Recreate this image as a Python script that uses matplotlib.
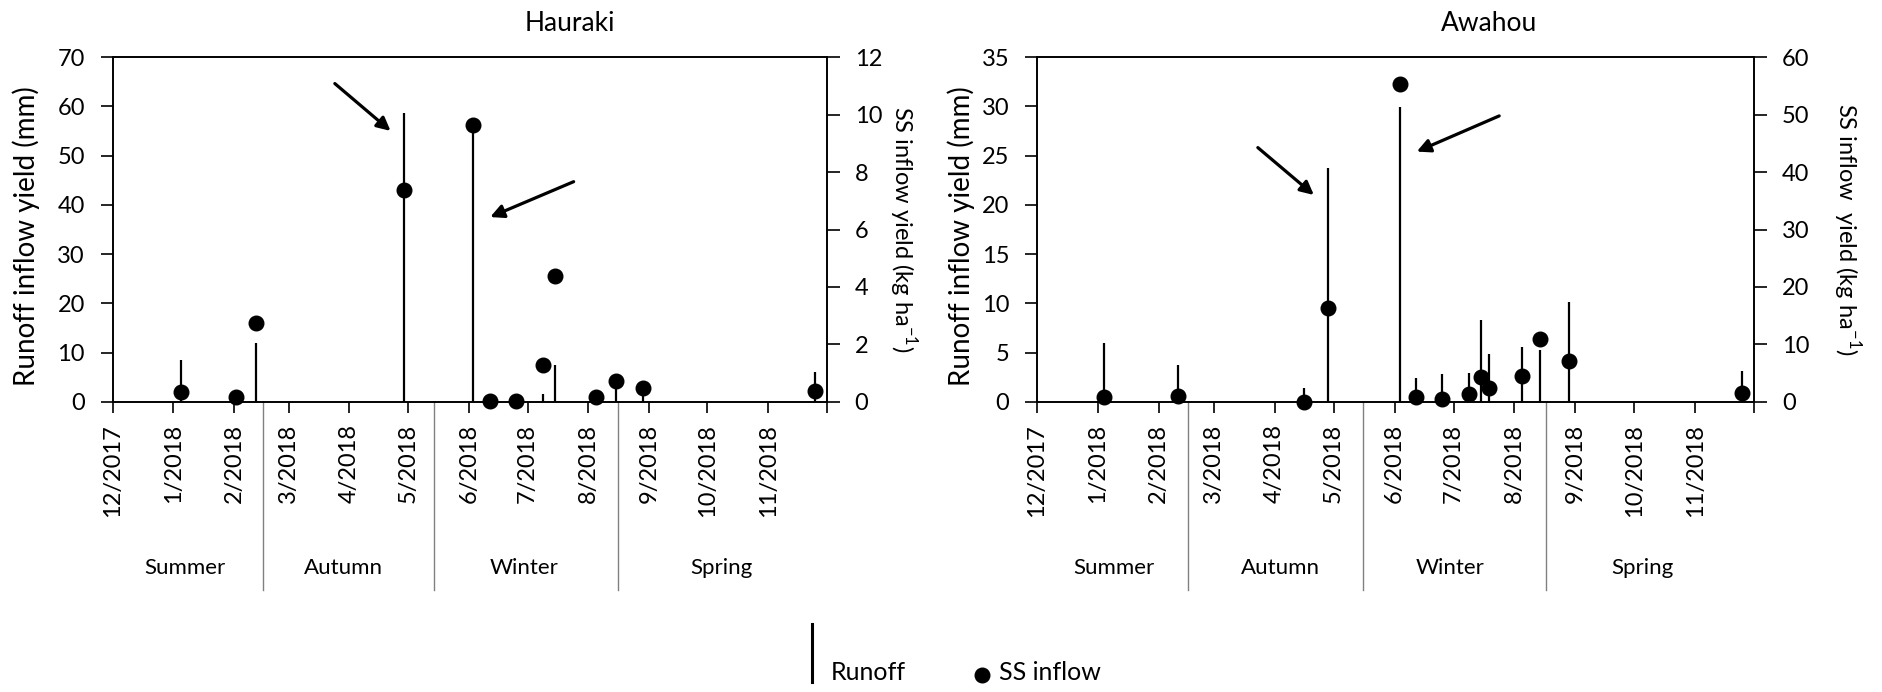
import numpy as np
import pandas as pd
import matplotlib
matplotlib.use('Agg')
import matplotlib.pyplot as plt
import matplotlib.transforms as mtransforms
from matplotlib.lines import Line2D

plt.rcParams['font.family'] = ['Lato', 'DejaVu Sans']
plt.rcParams['mathtext.fontset'] = 'custom'
plt.rcParams['mathtext.rm'] = 'Lato'

# Hauraki events
date_hauraki = ['2018-01-05', '2018-02-02', '2018-02-12', '2018-04-29', '2018-06-03',
                '2018-06-12', '2018-06-25', '2018-07-09', '2018-07-15', '2018-08-05',
                '2018-08-15', '2018-08-29', '2018-11-25']
runoff_hauraki = [8.5, 0, 11.9, 58.7, 56.0, 0, 0, 1.5, 7.5, 0, 4.5, 2.4, 6.1]
ss_hauraki = [0.35, 0.17, 2.75, 7.38, 9.64, 0.03, 0.03, 1.28, 4.38, 0.17, 0.73, 0.49, 0.38]

# Awahou events
date_awahou = ['2018-01-04', '2018-02-11', '2018-04-16', '2018-04-28', '2018-06-04',
               '2018-06-12', '2018-06-25', '2018-07-09', '2018-07-15', '2018-07-19',
               '2018-08-05', '2018-08-14', '2018-08-29', '2018-11-25']
runoff_awahou = [6.0, 3.7, 1.4, 23.7, 29.9, 2.4, 2.8, 2.95, 8.3, 4.85, 5.6, 5.25, 10.1, 3.15]
ss_awahou = [0.75, 1.05, 0.0, 16.4, 55.3, 0.75, 0.4, 1.34, 4.24, 2.44, 4.47, 10.86, 7.08, 1.45]

month_ticks = pd.date_range('2017-12-01', '2018-12-01', freq='MS')
month_labels = ['12/2017', '1/2018', '2/2018', '3/2018', '4/2018', '5/2018', '6/2018',
                '7/2018', '8/2018', '9/2018', '10/2018', '11/2018', '']
seasons = ['Summer', 'Autumn', 'Winter', 'Spring']

fig = plt.figure(figsize=(18.83, 6.92), dpi=100)


def panel(rect, title, dates, runoff, ss, ylim1, step1, ylim2, step2, ylab2,
          season_breaks, season_mid, title_x, lab1_x, lab2_x):
    ax = fig.add_axes(rect)
    ax2 = ax.twinx()
    d = pd.to_datetime(dates)
    ax.vlines(d, 0, runoff, color='black', lw=1.6, zorder=3)
    ax2.plot(d, ss, 'o', color='black', ms=10.5, zorder=4, clip_on=False)

    ax.set_xlim(month_ticks[0], month_ticks[-1])
    ax.set_ylim(0, ylim1)
    ax.set_yticks(np.arange(0, ylim1 + 1, step1))
    ax2.set_ylim(0, ylim2)
    ax2.set_yticks(np.arange(0, ylim2 + 1, step2))
    ax.set_xticks(month_ticks)
    ax.set_xticklabels(month_labels, rotation=90, fontsize=17)
    ax.tick_params(axis='x', length=8, width=1.2, pad=8)
    ax.tick_params(axis='y', labelsize=17, length=9, width=1.2, pad=11)
    ax2.tick_params(axis='y', labelsize=17, length=9, width=1.2, pad=11)
    for a in (ax, ax2):
        for s in a.spines.values():
            s.set_linewidth(1.2)

    ax.set_ylabel('Runoff inflow yield (mm)', fontsize=20)
    ax.yaxis.set_label_coords(lab1_x, 0.48)
    ax.yaxis.label.set_verticalalignment('center')
    ax2.set_ylabel(ylab2, fontsize=17, rotation=270)
    ax2.yaxis.set_label_coords(lab2_x, 0.5)
    ax2.yaxis.label.set_verticalalignment('center')

    ax.text(title_x, 1.097, title, transform=ax.transAxes, ha='center', va='center',
            fontsize=19)

    trans = mtransforms.blended_transform_factory(ax.transData, ax.transAxes)
    for b in pd.to_datetime(season_breaks):
        ax.plot([b, b], [0, -0.547], color='#808080', lw=1, transform=trans, clip_on=False)
    for name, m in zip(seasons, pd.to_datetime(season_mid)):
        ax.text(m, -0.483, name, transform=trans, ha='center', va='center', fontsize=16)
    return ax


axL = panel([0.0599, 0.4195, 0.3792, 0.4977], 'Hauraki', date_hauraki, runoff_hauraki,
            ss_hauraki, 70, 10, 12, 2, 'SS inflow yield (kg ha$^{\\mathregular{-1}}$)',
            ['2018-02-16', '2018-05-14', '2018-08-16'],
            ['2018-01-07', '2018-03-29', '2018-06-29', '2018-10-08'],
            0.64, -0.121, 1.107)
axR = panel([0.5507, 0.4195, 0.3809, 0.4977], 'Awahou', date_awahou, runoff_awahou,
            ss_awahou, 35, 5, 60, 10, 'SS inflow  yield (kg ha$^{\\mathregular{-1}}$)',
            ['2018-02-16', '2018-05-16', '2018-08-17'],
            ['2018-01-09', '2018-04-04', '2018-06-29', '2018-10-05'],
            0.63, -0.106, 1.13)

arrow = dict(arrowstyle='-|>', color='black', lw=2.3, mutation_scale=20)
axL.annotate('', xy=(0.392, 0.781), xytext=(0.308, 0.929), xycoords='axes fraction',
             arrowprops=arrow)
axL.annotate('', xy=(0.525, 0.533), xytext=(0.649, 0.642), xycoords='axes fraction',
             arrowprops=arrow)
axR.annotate('', xy=(0.389, 0.595), xytext=(0.305, 0.743), xycoords='axes fraction',
             arrowprops=arrow)
axR.annotate('', xy=(0.526, 0.723), xytext=(0.648, 0.833), xycoords='axes fraction',
             arrowprops=arrow)

# legend
fig.add_artist(Line2D([0.4312, 0.4312], [0.0145, 0.0983], color='black', lw=2.2,
                      transform=fig.transFigure))
fig.text(0.4413, 0.012, 'Runoff', fontsize=18, ha='left', va='bottom')
fig.add_artist(Line2D([0.5215], [0.0246], marker='o', color='black', ms=10.5,
                      transform=fig.transFigure))
fig.text(0.5305, 0.012, 'SS inflow', fontsize=18, ha='left', va='bottom')

fig.savefig('out.png', dpi=100)
